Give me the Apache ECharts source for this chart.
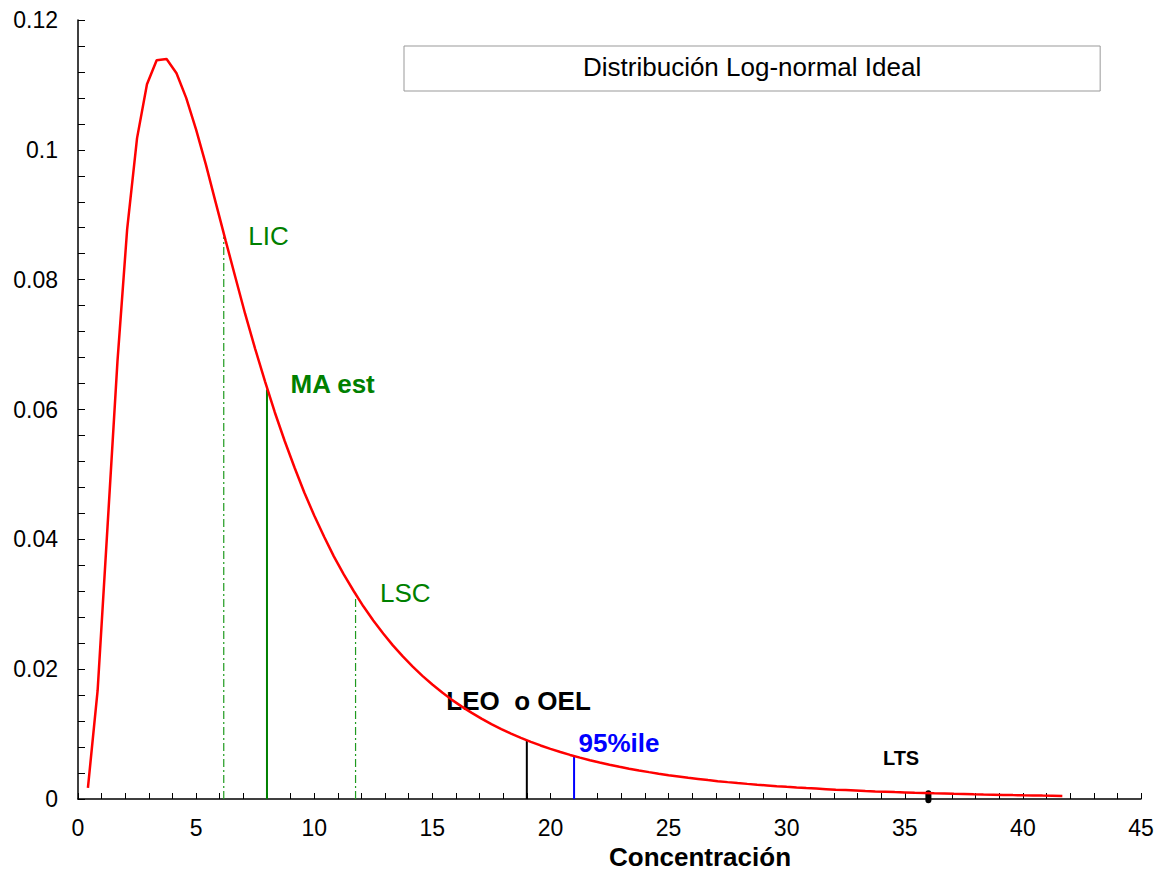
<!DOCTYPE html>
<html>
<head>
<meta charset="utf-8">
<style>html,body{margin:0;padding:0;background:#fff;overflow:hidden;}#c{width:1163px;height:875px;}</style>
<script src="https://cdn.jsdelivr.net/npm/echarts@6/dist/echarts.min.js"></script>
</head>
<body>
<div id="c"></div>
<script>
// ---- data ----
var curveName = 'Distribución Log-normal Ideal';
var xAxisTitle = 'Concentración';
var concX = [
  0.42, 0.83, 1.25, 1.67, 2.08, 2.5, 2.92, 3.33, 3.75, 4.17,
  4.58, 5, 5.42, 5.83, 6.25, 6.67, 7.08, 7.5, 7.92, 8.33,
  8.75, 9.17, 9.58, 10, 10.42, 10.83, 11.25, 11.67, 12.08, 12.5,
  12.92, 13.33, 13.75, 14.17, 14.58, 15, 15.42, 15.83, 16.25, 16.67,
  17.08, 17.5, 17.92, 18.33, 18.75, 19.17, 19.58, 20, 20.42, 20.83,
  21.25, 21.67, 22.08, 22.5, 22.92, 23.33, 23.75, 24.17, 24.58, 25,
  25.42, 25.83, 26.25, 26.67, 27.08, 27.5, 27.92, 28.33, 28.75, 29.17,
  29.58, 30, 30.42, 30.83, 31.25, 31.67, 32.08, 32.5, 32.92, 33.33,
  33.75, 34.17, 34.58, 35, 35.42, 35.83, 36.25, 36.67, 37.08, 37.5,
  37.92, 38.33, 38.75, 39.17, 39.58, 40, 40.42, 40.83, 41.25, 41.67
];
var density = [
  0.00172, 0.01668, 0.04196, 0.06738, 0.08773, 0.1018, 0.1101, 0.1138, 0.1140, 0.1118,
  0.1080, 0.1031, 0.09764, 0.09187, 0.08602, 0.08026, 0.07468, 0.06935, 0.06431, 0.05958,
  0.05515, 0.05103, 0.04721, 0.04367, 0.04040, 0.03738, 0.03460, 0.03204, 0.02968, 0.02750,
  0.02550, 0.02366, 0.02196, 0.02040, 0.01896, 0.01763, 0.01640, 0.01527, 0.01423, 0.01326,
  0.01237, 0.01154, 0.01078, 0.01007, 0.00942, 0.00881, 0.00825, 0.00773, 0.00724, 0.00679,
  0.00637, 0.00598, 0.00562, 0.00528, 0.00496, 0.00467, 0.00439, 0.00414, 0.00390, 0.00367,
  0.00347, 0.00327, 0.00309, 0.00291, 0.00275, 0.00260, 0.00246, 0.00233, 0.00220, 0.00209,
  0.00198, 0.00187, 0.00177, 0.00168, 0.00160, 0.00152, 0.00144, 0.00137, 0.00130, 0.00123,
  0.00117, 0.00112, 0.00106, 0.00101, 0.00096, 0.00092, 0.00087, 0.00083, 0.00079, 0.00076,
  0.00072, 0.00069, 0.00066, 0.00063, 0.00060, 0.00057, 0.00055, 0.00052, 0.00050, 0.00048
];
var markerNames = ['LIC', 'MA est', 'LSC', 'LEO  o OEL', '95%ile', 'LTS'];
var markerX     = [6.17, 8.0, 11.75, 19, 21, 36];
var markerBase  = [0, 0, 0, 0, 0, -0.0002];
var markerTop   = [0.0866, 0.0631, 0.0311, 0.0090, 0.0066, 0.0009];
var xTickLabels = ['0', '5', '10', '15', '20', '25', '30', '35', '40', '45'];
var yTickLabels = ['0', '0.02', '0.04', '0.06', '0.08', '0.1', '0.12'];

// ---- styles (not data) ----
var FONT = '"Liberation Sans", Arial, Helvetica, sans-serif';
var markerStyle = {
  'LIC':        { line: { color: '#1f9a1f', width: 1.2, type: [8, 3, 2, 3] }, text: { color: '#008000', fontSize: 26, fontWeight: 'normal' }, offset: [24, -1] },
  'MA est':     { line: { color: '#008000', width: 2, type: 'solid' }, text: { color: '#008000', fontSize: 26, fontWeight: 'bold' }, offset: [23, -5] },
  'LSC':        { line: { color: '#1f9a1f', width: 1.2, type: [8, 3, 2, 3] }, text: { color: '#008000', fontSize: 26, fontWeight: 'normal' }, offset: [24, -4] },
  'LEO  o OEL': { line: { color: '#000000', width: 2, type: 'solid' }, text: { color: '#000000', fontSize: 26, fontWeight: 'bold' }, offset: [-81, -40] },
  '95%ile':     { line: { color: '#0000ff', width: 2, type: 'solid' }, text: { color: '#0000ff', fontSize: 26, fontWeight: 'bold' }, offset: [4, -13] },
  'LTS':        { line: { color: '#000000', width: 6, type: 'solid', cap: 'round' }, text: { color: '#000000', fontSize: 20, fontWeight: 'bold' }, offset: [-46, -35] }
};

var series = [];
markerNames.forEach(function (nm, i) {
  var st = markerStyle[nm];
  series.push({
    type: 'line',
    name: nm,
    silent: true,
    clip: false,
    symbol: 'circle',
    symbolSize: 1,
    showSymbol: true,
    itemStyle: { color: 'rgba(0,0,0,0)' },
    lineStyle: st.line,
    z: 2,
    data: [
      [markerX[i], markerBase[i]],
      {
        value: [markerX[i], markerTop[i]],
        label: {
          show: true,
          position: 'right',
          distance: 0,
          offset: st.offset,
          formatter: nm,
          fontFamily: FONT,
          color: st.text.color,
          fontSize: st.text.fontSize,
          fontWeight: st.text.fontWeight
        }
      }
    ]
  });
});
series.push({
  type: 'line',
  name: curveName,
  showSymbol: false,
  symbol: 'none',
  smooth: false,
  z: 3,
  lineStyle: { color: '#ff0000', width: 2.5 },
  itemStyle: { color: '#ff0000' },
  data: concX.map(function (x, i) { return [x, density[i]]; })
});

var chart = echarts.init(document.getElementById('c'), null, { renderer: 'svg' });
chart.setOption({
  animation: false,
  backgroundColor: '#ffffff',
  grid: { left: 78, right: 22, top: 20, bottom: 72, containLabel: false },
  legend: {
    data: [{ name: curveName, icon: 'none' }],
    selectedMode: false,
    left: 404,
    top: 46,
    itemWidth: 0,
    itemHeight: 26,
    itemGap: 0,
    padding: [8, 179, 11, 174],
    borderColor: '#999999',
    borderWidth: 1,
    backgroundColor: '#ffffff',
    textStyle: { fontFamily: FONT, fontSize: 26, color: '#000', lineHeight: 26 }
  },
  xAxis: {
    type: 'value',
    min: 0,
    max: 45,
    interval: 5,
    name: xAxisTitle,
    nameLocation: 'middle',
    nameGap: 45,
    nameTextStyle: { fontFamily: FONT, fontSize: 26, fontWeight: 'bold', color: '#000', padding: [0, 0, 0, 181] },
    axisLine: { show: true, onZero: false, lineStyle: { color: '#000', width: 1.5 } },
    axisTick: { show: true, inside: true, length: 6, lineStyle: { color: '#000', width: 1 } },
    minorTick: { show: true, splitNumber: 5, length: 6, lineStyle: { color: '#000', width: 1 } },
    splitLine: { show: false },
    axisLabel: {
      margin: 17,
      fontFamily: FONT, fontSize: 23, color: '#000',
      formatter: function (v) { return xTickLabels[Math.round(v / 5)]; }
    }
  },
  yAxis: {
    type: 'value',
    min: 0,
    max: 0.12,
    interval: 0.02,
    axisLine: { show: true, onZero: false, lineStyle: { color: '#000', width: 1.5 } },
    axisTick: { show: true, inside: true, length: 7, lineStyle: { color: '#000', width: 1 } },
    minorTick: { show: true, splitNumber: 5, length: 7, lineStyle: { color: '#000', width: 1 } },
    splitLine: { show: false },
    axisLabel: {
      margin: 20,
      fontFamily: FONT, fontSize: 23, color: '#000',
      formatter: function (v) { return yTickLabels[Math.round(v / 0.02)]; }
    }
  },
  series: series
});
</script>
</body>
</html>
